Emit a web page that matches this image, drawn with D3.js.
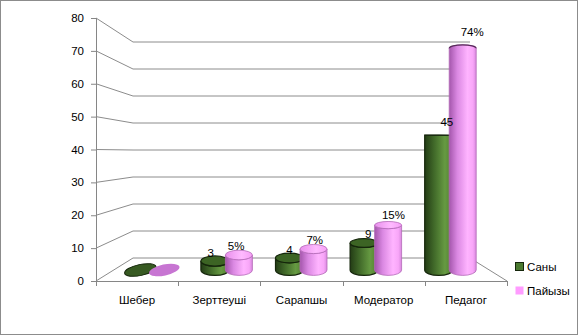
<!DOCTYPE html>
<html>
<head>
<meta charset="utf-8">
<script src="https://cdn.jsdelivr.net/npm/d3@7/dist/d3.min.js"></script>
<style>
  html, body { margin: 0; padding: 0; background: #fff; }
  svg { display: block; font-family: "Liberation Sans", Arial, sans-serif; }
</style>
</head>
<body>
<svg id="chart" width="588" height="336"></svg>
<script>
// Data
const categories = ["Шебер", "Зерттеуші", "Сарапшы", "Модератор", "Педагог"];
const seriesNames = ["Саны", "Пайызы"];
const sany = [0, 3, 4, 9, 45];
const paiyzy = [0, 5, 7, 15, 74];
const paiyzyLabels = ["0%", "5%", "7%", "15%", "74%"];
const yTicks = [0, 10, 20, 30, 40, 50, 60, 70, 80];

const svg = d3.select("#chart");
const FS = 11.5;

// 3D box geometry: front plane, back wall and the mid plane where cylinders stand
const yFront = d3.scaleLinear().domain([0, 80]).range([281, 18]);
const yBack  = d3.scaleLinear().domain([0, 80]).range([258, 42]);
const yMid   = d3.scaleLinear().domain([0, 80]).range([270, 30.4]);
const xFront = d3.scaleBand().domain(categories).range([96, 507]);
const xMid   = d3.scaleBand().domain(categories).range([115, 488]);
const backLeft = 133, backRight = 470;
const eyeY = 135;          // horizon used for cap ellipse tilt
const capK = 0.04;

// Gradients
const defs = svg.append("defs");
function grad(id, stops) {
  const g = defs.append("linearGradient").attr("id", id)
    .attr("x1", "0%").attr("x2", "100%").attr("y1", "0%").attr("y2", "0%");
  stops.forEach(s => g.append("stop").attr("offset", s[0]).attr("stop-color", s[1]));
}
grad("gGreen", [["0%", "#233c15"], ["35%", "#426b2a"], ["72%", "#669a42"], ["88%", "#5a8a38"], ["100%", "#34521f"]]);
grad("gPink",  [["0%", "#a456ac"], ["30%", "#da88e2"], ["68%", "#ffb4ff"], ["88%", "#f8a6f8"], ["100%", "#d888de"]]);
grad("gPinkCap", [["0%", "#e890ec"], ["60%", "#ffbaff"], ["100%", "#f6a0f6"]]);

// Outer frame
svg.append("rect").attr("x", 0.5).attr("y", 0.5).attr("width", 577).attr("height", 334)
  .attr("fill", "none").attr("stroke", "#8c8c8c");

// Gridlines: front edge -> back wall
const grid = svg.append("g").attr("fill", "none").attr("stroke", "#8c8c8c").attr("stroke-width", 1);
yTicks.forEach(t => {
  grid.append("path").attr("d",
    `M${96},${yFront(t)}L${backLeft},${yBack(t)}L${backRight},${yBack(t)}`);
});
// Right floor edge
grid.append("path").attr("d", `M${backRight},${yBack(0)}L${507},${yFront(0)}`);

// Value axis
const yAxis = svg.append("g");
yAxis.append("line").attr("x1", 96.5).attr("x2", 96.5).attr("y1", yFront(80)).attr("y2", yFront(0))
  .attr("stroke", "#868686");
yTicks.forEach(t => {
  yAxis.append("line").attr("x1", 91).attr("x2", 96).attr("y1", yFront(t) + 0.5).attr("y2", yFront(t) + 0.5)
    .attr("stroke", "#868686");
  yAxis.append("text").attr("x", 84).attr("y", yFront(t)).attr("dy", "0.35em")
    .attr("text-anchor", "end").attr("font-size", FS).attr("fill", "#000").text(t);
});

// Category axis
const xAxis = svg.append("g");
xAxis.append("line").attr("x1", 96).attr("x2", 507).attr("y1", 281.5).attr("y2", 281.5).attr("stroke", "#868686");
const bounds = categories.map(c => xFront(c)).concat([xFront.range()[1]]);
bounds.forEach(b => {
  xAxis.append("line").attr("x1", Math.round(b) + 0.5).attr("x2", Math.round(b) + 0.5)
    .attr("y1", 281).attr("y2", 286).attr("stroke", "#868686");
});
categories.forEach(c => {
  xAxis.append("text").attr("x", xFront(c) + xFront.bandwidth() / 2).attr("y", 304)
    .attr("text-anchor", "middle").attr("font-size", FS).attr("fill", "#000").text(c);
});

// Cylinders
const styles = [
  { body: "url(#gGreen)", cap: "#3c6424", stroke: "#15260b", flat: "#375a22", offset: -12, rx: 14 },
  { body: "url(#gPink)", cap: "url(#gPinkCap)", stroke: "#b46ab8", flat: "#c775d2", offset: 12, rx: 13.5 }
];
const bars = svg.append("g");
const labels = svg.append("g");

categories.forEach((c, i) => {
  [sany[i], paiyzy[i]].forEach((v, j) => {
    const st = styles[j];
    const cx = xMid(c) + xMid.bandwidth() / 2 + st.offset;
    const rx = st.rx;
    const y0 = yMid(0), y1 = yMid(v);
    if (v === 0) {
      bars.append("ellipse").attr("cx", cx).attr("cy", y0).attr("rx", rx + 2).attr("ry", 5.5)
        .attr("transform", `rotate(-12,${cx},${y0})`)
        .attr("fill", st.flat)
        .attr("stroke", j === 0 ? "#15260b" : "none").attr("stroke-width", 1);
      return;
    }
    const ryBot = Math.abs(capK * (eyeY - y0));
    const ryT = capK * (eyeY - y1);
    const L = cx - rx, R = cx + rx;
    const above = y1 > eyeY; // top below horizon -> cap face visible
    const ryTop = Math.max(Math.abs(ryT), 0.01);
    const d = `M${L},${y1}L${L},${y0}A${rx},${ryBot} 0 0 0 ${R},${y0}L${R},${y1}` +
      `A${rx},${ryTop} 0 0 ${above ? 1 : 0} ${L},${y1}Z`;
    bars.append("path").attr("d", d).attr("fill", st.body)
      .attr("stroke", st.stroke).attr("stroke-width", j === 0 ? 1.2 : 0.8);
    if (above) {
      bars.append("ellipse").attr("cx", cx).attr("cy", y1).attr("rx", rx).attr("ry", ryTop)
        .attr("fill", st.cap).attr("stroke", st.stroke).attr("stroke-width", j === 0 ? 1.2 : 0.8);
    } else {
      bars.append("path")
        .attr("d", `M${R},${y1}A${rx},${ryTop} 0 0 0 ${L},${y1}`)
        .attr("fill", "none").attr("stroke", j === 0 ? st.stroke : "#5a2a5c").attr("stroke-width", 1.2);
    }
    const lx = cx + (cx - 290) * 0.055;
    const ly = y1 - 4 - 0.036 * (y0 - y1);
    labels.append("text").attr("x", lx).attr("y", ly).attr("text-anchor", "middle")
      .attr("font-size", FS).attr("fill", "#000")
      .text(j === 0 ? String(v) : paiyzyLabels[i]);
  });
});

// Legend
const legend = svg.append("g");
const legendColors = [{ fill: "#4a7a30", stroke: "#15260b" }, { fill: "#ff9cff", stroke: "none" }];
seriesNames.forEach((s, k) => {
  const y = 262 + k * 24;
  legend.append("rect").attr("x", 515.5).attr("y", y + 0.5).attr("width", 8).attr("height", 8)
    .attr("fill", legendColors[k].fill).attr("stroke", legendColors[k].stroke);
  legend.append("text").attr("x", 527).attr("y", y + 8.5).attr("font-size", FS).attr("fill", "#000").text(s);
});
</script>
</body>
</html>
